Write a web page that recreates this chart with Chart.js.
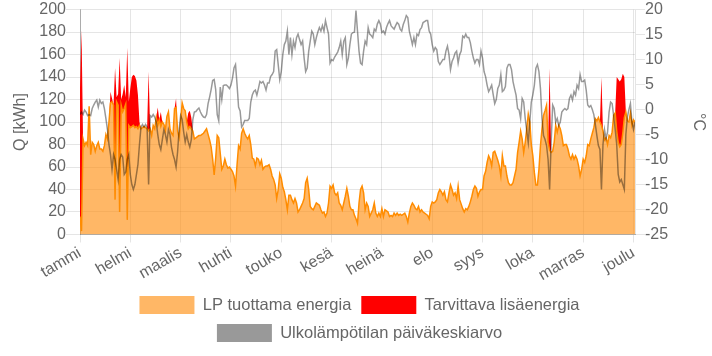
<!DOCTYPE html>
<html>
<head>
<meta charset="utf-8">
<script src="https://cdn.jsdelivr.net/npm/chart.js"></script>
<style>
html,body{margin:0;padding:0;background:#fff;}
#wrap{width:712px;height:356px;position:relative;}
</style>
</head>
<body>
<div id="wrap"><canvas id="c"></canvas></div>
<script>
// Month tick labels and the day index at which each one is shown
const monthLabels = ['tammi','helmi','maalis','huhti','touko','kesä','heinä','elo','syys','loka','marras','joulu'];
const tickDays = [0,33,66,99,132,165,198,231,264,297,330,363];

// LP tuottama energia (kWh/day)
const lp = [
16,3,85,79,82,79,114,71,82,80,
74,79,82,76,76,74,79,89,85,100,
117,118,115,31,118,115,20,115,109,112,
116,13,97,95,96,97,95,96,94,97,
94,95,96,95,94,92,94,88,97,94,
104,97,102,96,100,98,93,105,109,94,
90,88,112,113,92,86,100,117,112,110,
100,94,96,94,92,85,86,87,88,88,
89,90,92,94,89,84,78,67,53,68,
88,86,72,58,61,67,62,59,60,58,
56,52,43,62,79,76,90,94,90,87,
85,88,80,68,67,61,68,67,62,66,
58,60,61,61,62,58,52,49,44,32,
40,54,50,42,38,31,22,35,35,31,
28,32,28,20,22,25,28,32,46,50,
40,25,23,22,25,28,27,26,22,19,
20,16,19,28,43,41,44,37,35,37,
28,26,22,28,34,41,34,25,22,22,
17,14,10,28,40,43,37,22,28,25,
16,19,22,28,19,16,19,16,23,16,
22,21,20,16,17,16,19,17,19,17,
18,17,18,19,16,11,19,25,28,26,
23,22,25,20,22,20,19,18,17,14,
25,29,28,29,31,37,40,38,35,38,
31,29,37,44,40,35,37,32,43,31,
27,23,20,23,22,25,29,34,40,43,
41,34,38,40,40,52,56,64,70,67,
61,73,74,70,66,61,52,70,61,61,
52,46,44,44,46,52,58,73,82,92,
85,73,82,94,107,100,80,70,55,44,
44,58,79,94,106,110,115,82,75,73,
74,82,97,91,97,94,88,79,80,80,
76,70,67,71,67,70,67,61,52,58,
67,64,70,80,79,85,90,95,103,101,
104,100,97,92,84,86,80,88,86,91,
106,108,92,82,78,80,90,104,109,101,
100,108,97,102,100
];

// Tarvittava lisäenergia (kWh/day, stacked on top of LP)
const extra = [
114,179,0,0,0,0,0,0,0,0,
0,0,0,0,0,0,0,0,0,0,
10,3,0,117,4,10,137,5,16,21,
6,153,21,35,44,45,46,41,30,3,
0,0,0,0,0,53,0,0,0,0,
0,16,0,13,0,0,0,0,0,0,
0,0,0,8,0,0,0,0,0,0,
0,14,14,10,0,0,0,0,0,0,
0,0,0,0,0,0,0,0,0,0,
0,0,0,0,0,0,0,0,0,0,
0,0,0,0,0,0,0,0,0,0,
0,0,0,0,0,0,0,0,0,0,
0,0,0,0,0,0,0,0,0,0,
0,0,0,0,0,0,0,0,0,0,
0,0,0,0,0,0,0,0,0,0,
0,0,0,0,0,0,0,0,0,0,
0,0,0,0,0,0,0,0,0,0,
0,0,0,0,0,0,0,0,0,0,
0,0,0,0,0,0,0,0,0,0,
0,0,0,0,0,0,0,0,0,0,
0,0,0,0,0,0,0,0,0,0,
0,0,0,0,0,0,0,0,0,0,
0,0,0,0,0,0,0,0,0,0,
0,0,0,0,0,0,0,0,0,0,
0,0,0,0,0,0,0,0,0,0,
0,0,0,0,0,0,0,0,0,0,
0,0,0,0,0,0,0,0,0,0,
0,0,0,0,0,0,0,0,0,0,
0,0,0,0,0,0,0,0,0,0,
0,0,0,0,0,0,0,0,0,0,
0,0,0,0,0,0,0,0,73,0,
0,0,0,0,0,0,0,0,0,0,
0,0,0,0,0,0,0,0,0,0,
0,0,0,0,0,0,0,0,0,0,
0,0,43,0,0,0,0,0,0,0,
0,0,48,56,58,58,53,36,0,0,
0,0,0,0,0
];

// Ulkolämpötilan päiväkeskiarvo (°C)
const temp = [
-1,-0.5,-1,-0.1,-0.5,-1.2,-1,-1.2,0.2,0.9,
1.5,1.9,0.5,1.9,1.2,1.5,0.2,-1.8,-4,-7,
-9,-12,-9,-10,-12,-14,-10,-9,-9.5,-13,
-12.5,-10,-9,-13,-15,-16,-15,-13,-11,-7,
-3.5,-3,-3.5,-3,-3.5,-15,-1.2,-1.5,-1,-1.5,
-2.5,-5,-7,-8,-6,-4,-5,-6.5,-4,-5,
-7.5,-9,-10,-11.5,-8.5,-4,-1.2,-2,-4.5,-6.5,
-5,-6.5,-7.5,-6,-2,-0.5,-0.4,0,0.3,-0.5,
-1.1,-1.5,-1.6,-1,1.2,2.5,4,5.8,6,4,
-1,-2.2,4.5,2,4.8,4.9,4.9,4.6,4.2,4.9,
6.3,8.3,9,5,0.5,-0.3,-3.5,-3,-2.2,-2.2,
-2.2,-1.8,1.5,2.9,3.6,3.9,2.9,4.2,5.6,5.3,
5.6,4.9,3.9,5.3,5.3,6.6,7,7.6,11.7,12,
9,6,7.6,11,13,13.7,15.7,11,14.4,11,
13.7,12.4,14.4,15.1,14,13,13.7,10.3,7.6,8.3,
11.7,13.7,15.7,15.1,13,14.4,15.5,16.4,15.7,16.8,
15.7,17.8,16.4,15.1,9.3,10,9.8,10.5,11,11.5,
12.4,13.7,11,13.7,14.4,9,10.3,13,15.1,15.4,
15.5,19.8,15.7,11.7,9.3,9,11.7,13.7,13,16.4,
15.1,14.8,14.4,16.1,15.7,17.1,17.8,17.1,15.4,15.7,
15.1,16.4,17.2,17.8,16.8,16.4,16.1,16.8,17.4,17.1,
16.1,15.7,17,17.8,18.8,18.4,15.7,14.4,13,14.4,
13,15.1,14.8,16,16.4,17.4,17.6,17.8,17.8,15.7,
15.1,13,11.7,12.4,12,9.6,9,9.5,10,10,
11.7,12.7,11,8,9.6,10.3,11.3,11.7,9.3,11,
11.7,14.7,14.4,15.1,14.4,14.4,13.4,11.7,10.3,9.3,
10,10,9,11.7,10.3,7.6,6.6,4.9,3.6,4.2,
4.9,3,1.2,2,4.2,4.9,7,3.6,3.9,4.6,
8.3,9,9,8,5.6,4.2,2.9,0.2,-0.1,-1.8,
2.2,1.5,-1.8,-4.2,-6.6,-2.5,1.5,3,4.9,8.3,
9,7.6,4.2,-1.8,-5.2,-6,-7.2,-10,-16,-6.6,
0.9,0.2,-2.5,-1.8,-3.2,-2.5,-0.5,-0.1,0.2,-0.1,
0.2,2.2,2.9,1.9,3.6,2.9,4.9,4.2,7,5.6,
5.6,5.9,3.9,0.9,0.5,0.8,0,-1,-3,-5.2,
-7.2,-8,-16,-7,-4,-5.8,-4.5,-0.5,1.5,1.2,
-1.2,-4,-7,-13,-14.5,-14,-15,-16,-5,-1.5,
0,1.2,-2.5,-4,-2.5
];

// Day index of each value (0 = 1st of January)
const days = lp.map((_, i) => i);

Chart.defaults.font.size = 16;
Chart.defaults.color = '#666';

new Chart(document.getElementById('c'), {
  type: 'line',
  data: {
    labels: days,
    datasets: [
      {
        label: 'LP tuottama energia',
        data: lp,
        yAxisID: 'y',
        fill: 'origin',
        backgroundColor: 'rgba(255,145,20,0.65)',
        borderColor: 'rgb(255,140,0)',
        borderWidth: 1.5,
        pointRadius: 0,
        tension: 0
      },
      {
        label: 'Tarvittava lisäenergia',
        data: extra,
        yAxisID: 'y',
        fill: '-1',
        backgroundColor: 'rgb(255,0,0)',
        borderColor: 'rgb(255,0,0)',
        borderWidth: 0,
        pointRadius: 0,
        tension: 0
      },
      {
        label: 'Ulkolämpötilan päiväkeskiarvo',
        data: temp,
        yAxisID: 'y1',
        fill: false,
        backgroundColor: 'rgba(0,0,0,0.4)',
        borderColor: 'rgba(0,0,0,0.4)',
        borderWidth: 1.5,
        pointRadius: 0,
        tension: 0,
        order: -1
      }
    ]
  },
  options: {
    responsive: true,
    maintainAspectRatio: false,
    animation: false,
    layout: { padding: { left: 7, bottom: 4 } },
    plugins: {
      tooltip: { enabled: false },
      legend: {
        position: 'bottom',
        labels: {
          boxWidth: 55,
          boxHeight: 18,
          padding: 10,
          color: '#666',
          font: { size: 16.5 },
          sort: (a, b) => a.datasetIndex - b.datasetIndex,
          generateLabels: (chart) => {
            const items = Chart.defaults.plugins.legend.labels.generateLabels(chart);
            items.forEach(it => { it.strokeStyle = it.fillStyle; it.lineWidth = 0; });
            return items;
          }
        }
      }
    },
    scales: {
      x: {
        type: 'linear',
        min: 0,
        max: 364,
        afterBuildTicks: (s) => { s.ticks = tickDays.map(v => ({ value: v })); },
        ticks: {
          autoSkip: false,
          maxRotation: 30,
          minRotation: 30,
          padding: 1,
          callback: (v, i) => monthLabels[i]
        },
        grid: { color: 'rgba(0,0,0,0.1)' },
        border: { color: 'rgba(0,0,0,0.25)' }
      },
      y: {
        stacked: true,
        position: 'left',
        min: 0,
        max: 200,
        ticks: { stepSize: 20, padding: 0, autoSkip: false },
        title: { display: true, text: 'Q [kWh]' },
        grid: { color: 'rgba(0,0,0,0.1)', tickLength: 14 },
        border: { color: 'rgba(0,0,0,0.25)' },
        afterFit: (s) => { s.width = 73; }
      },
      y1: {
        position: 'right',
        min: -25,
        max: 20,
        ticks: { stepSize: 5, padding: 0, autoSkip: false },
        title: { display: true, text: '°C' },
        grid: { drawOnChartArea: false, color: 'rgba(0,0,0,0.1)', tickLength: 10 },
        border: { color: 'rgba(0,0,0,0.1)' },
        afterFit: (s) => { s.width = 77; }
      }
    }
  }
});
</script>
</body>
</html>
